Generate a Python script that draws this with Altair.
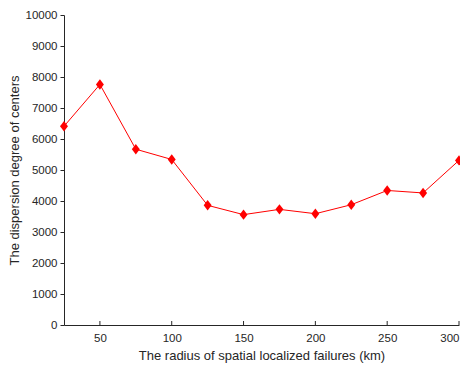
import altair as alt
import pandas as pd

radius = [25, 50, 75, 100, 125, 150, 175, 200, 225, 250, 275, 300]
dispersion = [6410, 7760, 5670, 5340, 3860, 3560, 3730, 3590, 3880, 4340, 4260, 5310]
x_ticks = [50, 100, 150, 200, 250, 300]
y_ticks = list(range(0, 10001, 1000))

df = pd.DataFrame({"r": radius, "d": dispersion})
tick_df = pd.DataFrame({"t": x_ticks})

W, H = 395, 310
FONT = "Liberation Sans"
C = "#262626"

x_scale = alt.Scale(domain=[25, 300], nice=False, zero=False)
y_scale = alt.Scale(domain=[0, 10000], nice=False)

x_axis = alt.Axis(values=x_ticks, title="The radius of spatial localized failures (km)",
                  format="d", ticks=False, grid=False, labelPadding=7, titlePadding=6,
                  labelOverlap=False, labelFlush=False,
                  labelAlign=alt.ExprRef(expr="datum.value >= 300 ? 'right' : 'center'"),
                  domainColor=C, labelColor=C, titleColor=C,
                  labelFontSize=11.5, titleFontSize=13, labelFont=FONT, titleFont=FONT,
                  titleFontWeight="normal")
y_axis = alt.Axis(values=y_ticks, title="The dispersion degree of centers",
                  format="d", labelOverlap=False, labelFlush=False,
                  grid=False, tickSize=4, labelPadding=3, titlePadding=4,
                  domainColor=C, tickColor=C, labelColor=C,
                  titleColor=C, labelFontSize=11.5, titleFontSize=13,
                  labelFont=FONT, titleFont=FONT, titleFontWeight="normal")

X = alt.X("r:Q", scale=x_scale, axis=x_axis)
Y = alt.Y("d:Q", scale=y_scale, axis=y_axis)

line = alt.Chart(df).mark_line(color="#FF0000", strokeWidth=1).encode(x=X, y=Y)

points = alt.Chart(df).mark_point(
    shape="M0,-1.25L0.95,0L0,1.25L-0.95,0Z", filled=True, color="#FF0000", opacity=1, size=70
).encode(x=X, y=Y)

xticks = alt.Chart(tick_df).mark_rule(color=C, strokeWidth=1).encode(
    x=alt.X("t:Q", scale=x_scale, axis=x_axis),
    y=alt.value(H),
    y2=alt.value(H - 4),
)

chart = alt.layer(line, xticks, points).properties(
    width=W, height=H,
    autosize=alt.AutoSizeParams(type="none"),
    padding={"left": 56, "top": 7, "right": 1, "bottom": 40},
).configure(background="white").configure_view(stroke=None)

chart.save("out.html", embed_options={"renderer": "svg", "actions": False})
